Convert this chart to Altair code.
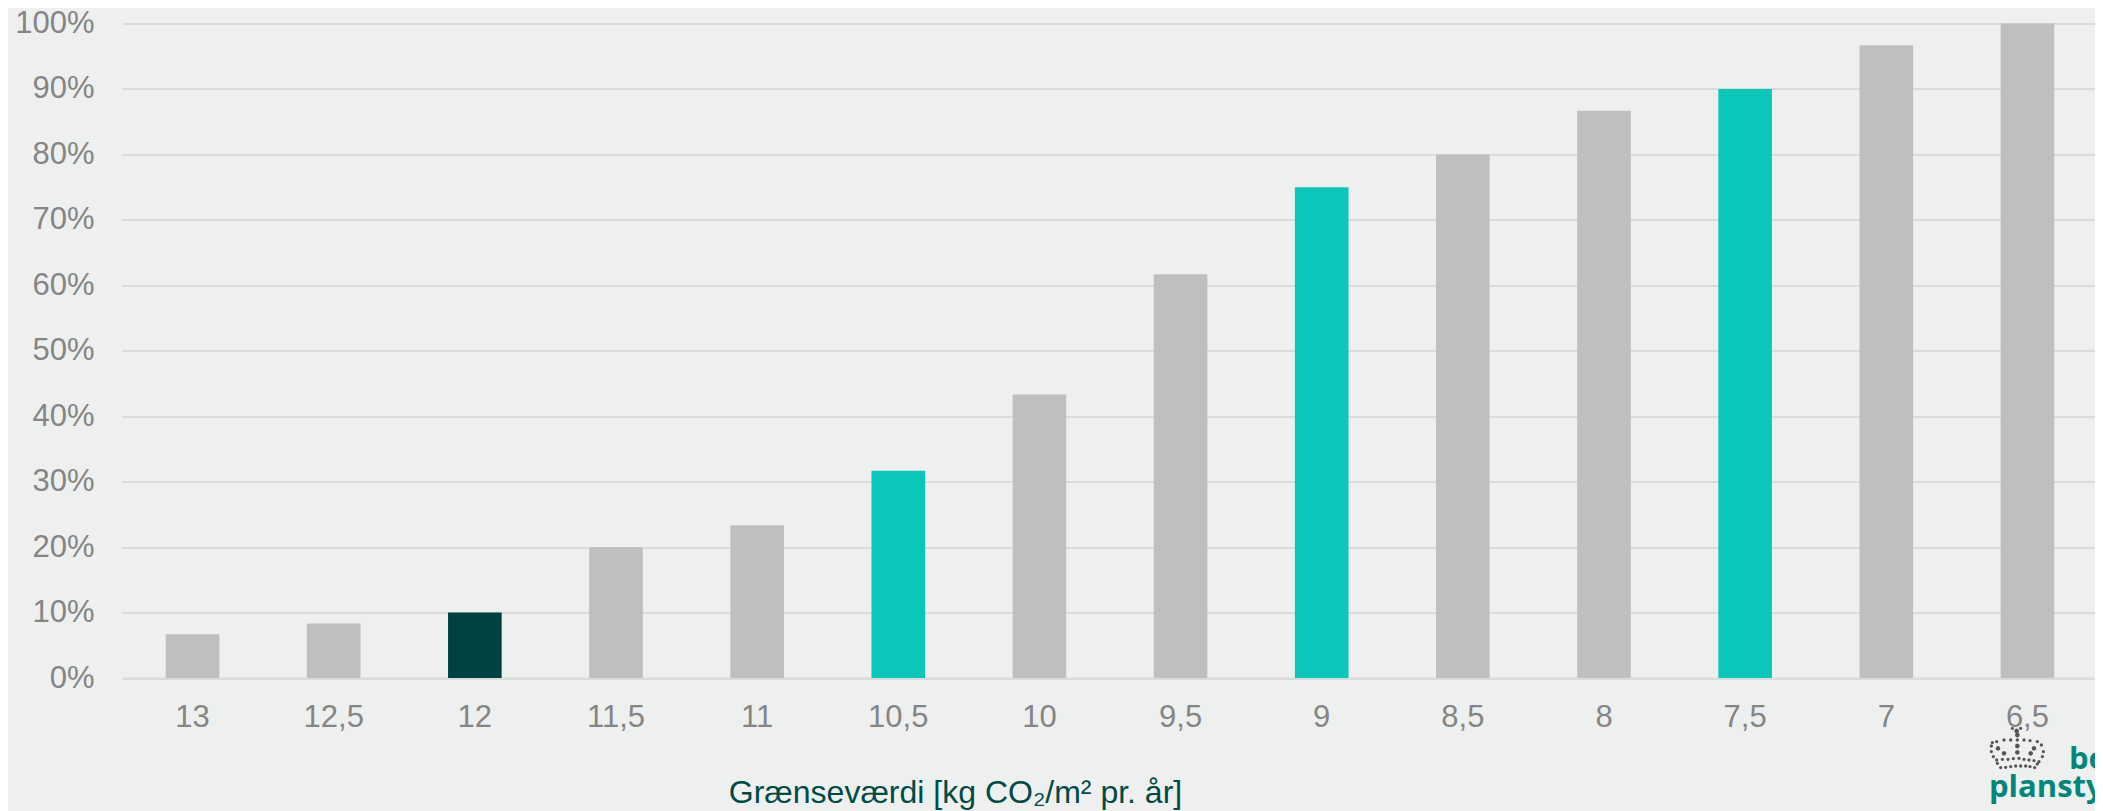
import math
import altair as alt
import pandas as pd

# Chart data
graenser = ["13", "12,5", "12", "11,5", "11", "10,5", "10", "9,5", "9", "8,5", "8", "7,5", "7", "6,5"]
andele = [0.0667, 0.0833, 0.10, 0.20, 0.2333, 0.3167, 0.4333, 0.6167, 0.75, 0.80, 0.8667, 0.90, 0.9667, 1.0]
grupper = ["ovrig", "ovrig", "mork", "ovrig", "ovrig", "lys", "ovrig", "ovrig", "lys", "ovrig", "ovrig", "lys", "ovrig", "ovrig"]

gruppe_navne = ["ovrig", "mork", "lys"]
gruppe_farver = ["#BFBFBF", "#004241", "#0AC8B9"]

BG = "#EEF0EF"
GRID = "#DADCDC"
TICK = "#858585"
TITLE = "#004B45"
LOGO = "#00877A"
CROWN = "#555555"

df = pd.DataFrame({"graense": graenser, "andel": andele, "gruppe": grupper})

# Crown emblem, as one symbol path made of small dots
crown_small = [(85,25),(110,25),(100,60),(25,68),(38,65),(60,60),(80,60),(120,60),(138,62),(160,65),(172,75),
               (178,95),(175,110),(22,78),(22,95),(28,110),(38,120),(55,118),(72,118),(88,116),(105,115),(120,118),
               (135,120),(150,122),(165,125),(50,143),(65,142),(80,140),(95,138),(110,138),(125,138),(138,140),
               (152,143),(40,130),(160,132)]
crown_big = [(98,33),(100,45),(100,78),(100,97),(60,100),(42,85),(150,85),(140,100)]
R = 40.0

def dot(px, py, r):
    cx, cy = (px - 100) / 3 / R, (py - 85) / 3 / R
    rr = r / R
    pts = [(cx + rr * math.cos(i * math.pi / 4), cy + rr * math.sin(i * math.pi / 4)) for i in range(8)]
    return "M" + "L".join(f"{a:.4f},{b:.4f}" for a, b in pts) + "Z"

crown_path = "".join(dot(a, b, 1.7) for a, b in crown_small) + "".join(dot(a, b, 2.4) for a, b in crown_big)

bars = alt.Chart(df).mark_bar(opacity=1).encode(
    x=alt.X(
        "graense:N",
        sort=None,
        scale=alt.Scale(paddingInner=0.62, paddingOuter=0.31, round=False, range=[0, 1976]),
        axis=alt.Axis(
            title="Grænseværdi [kg CO₂/m² pr. år]",
            titleFont="Liberation Sans",
            titleFontSize=32,
            titleFontWeight="normal",
            titleColor=TITLE,
            titleX=833,
            titleY=124,
            titleBaseline="alphabetic",
            labelAngle=0,
            labelFont="Liberation Sans",
            labelFontSize=31,
            labelColor=TICK,
            labelPadding=24,
            ticks=False,
            domainColor=GRID,
            domainWidth=2,
        ),
    ),
    y=alt.Y(
        "andel:Q",
        scale=alt.Scale(domain=[0, 1], nice=False),
        axis=alt.Axis(
            title=None,
            format=".0%",
            values=[i / 10 for i in range(11)],
            labelFont="Liberation Sans",
            labelFontSize=31,
            labelColor=TICK,
            labelPadding=28,
            ticks=False,
            domain=False,
            grid=True,
            gridColor=GRID,
            gridWidth=2,
        ),
    ),
    color=alt.Color(
        "gruppe:N",
        scale=alt.Scale(domain=gruppe_navne, range=gruppe_farver),
        legend=None,
    ),
)

logo_font = dict(font="Open Sans", fontWeight=700, fontSize=31, color=LOGO, align="left", baseline="alphabetic")
logo1 = alt.Chart(df.head(1)).mark_text(text="bo", **logo_font).encode(x=alt.value(2069 - 122), y=alt.value(769 - 23.5))
logo2 = alt.Chart(df.head(1)).mark_text(text="plansty", **logo_font).encode(x=alt.value(1989 - 122), y=alt.value(797 - 23.5))
crown = alt.Chart(df.head(1)).mark_point(shape=crown_path, filled=True, opacity=1, color=CROWN, size=(2 * R) ** 2, strokeWidth=0).encode(
    x=alt.value(1984 + 100 / 3 - 122), y=alt.value(720 + 85 / 3 - 23.5)
)

chart = alt.layer(bars, crown, logo1, logo2).properties(
    width=1973,
    height=654.5,
    background=BG,
    padding={"left": 114, "top": 15.5, "right": 0, "bottom": 133},
    autosize=alt.AutoSizeParams(type="none"),
).configure_view(stroke=None)

chart.save("out.html", embed_options={"renderer": "svg", "actions": False})
